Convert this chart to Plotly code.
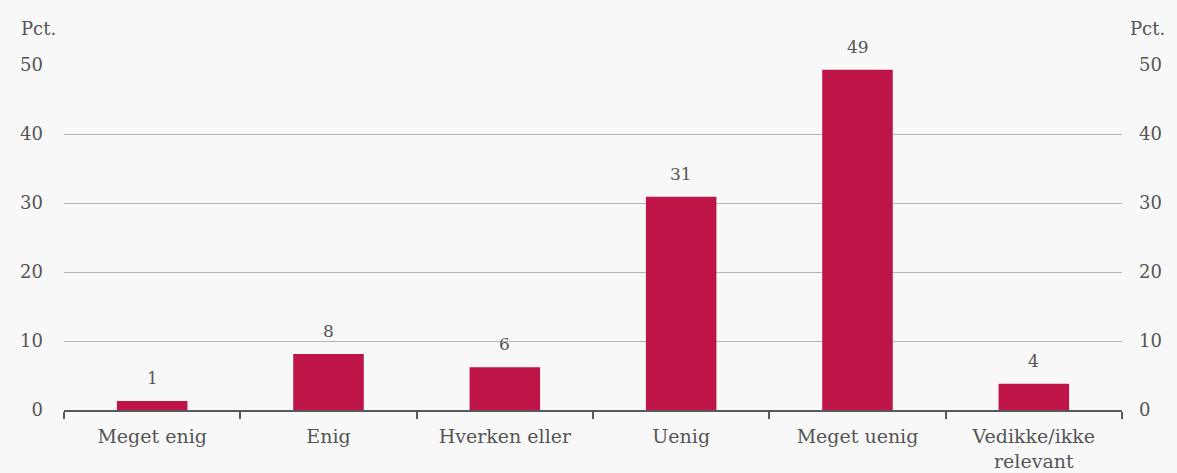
import plotly.graph_objects as go

categories = ["Meget enig", "Enig", "Hverken eller", "Uenig", "Meget uenig", "Vedikke/ikke<br>relevant"]
values = [1.3, 8.1, 6.2, 30.9, 49.3, 3.8]
labels = ["1", "8", "6", "31", "49", "4"]
y_ticks = [0, 10, 20, 30, 40, 50]

FONT = "DejaVu Serif"
TXT = "#555555"
BG = "#F8F8F8"

fig = go.Figure()
fig.add_trace(go.Bar(
    x=categories, y=values,
    marker=dict(color="#BF1448", line=dict(width=0)),
    cliponaxis=False, hoverinfo="skip",
))
fig.add_trace(go.Scatter(x=categories, y=values, yaxis="y2", mode="markers",
                         marker=dict(opacity=0), hoverinfo="skip", showlegend=False))

annotations = [
    dict(text=t, x=c, y=v, xref="x", yref="y", yanchor="bottom", yshift=11,
         showarrow=False, font=dict(family=FONT, size=17, color=TXT))
    for c, v, t in zip(categories, values, labels)
]
annotations += [
    dict(text="Pct.", x=0, y=1.0, xref="paper", yref="paper", xanchor="right", yanchor="bottom",
         xshift=-6, yshift=24, showarrow=False, font=dict(family=FONT, size=18, color=TXT)),
    dict(text="Pct.", x=1, y=1.0, xref="paper", yref="paper", xanchor="left", yanchor="bottom",
         xshift=6, yshift=24, showarrow=False, font=dict(family=FONT, size=18, color=TXT)),
]

axis_y = dict(range=[0, 50], tickvals=y_ticks, showgrid=True, gridcolor="#B4B4B4", gridwidth=1,
              zeroline=False, showline=False, ticks="", automargin=False,
              tickfont=dict(family=FONT, size=18, color=TXT), ticklabelstandoff=20)
fig.update_layout(
    width=1177, height=473,
    paper_bgcolor=BG, plot_bgcolor=BG,
    margin=dict(l=64, r=55, t=65, b=63, autoexpand=False),
    showlegend=False, bargap=0.6,
    xaxis=dict(showline=True, linecolor="#595959", linewidth=2, ticks="outside", tickson="boundaries",
               ticklen=7, tickcolor="#595959", tickwidth=2, automargin=False,
               tickfont=dict(family=FONT, size=19, color=TXT), showgrid=False,
               ticklabelstandoff=8),
    yaxis=axis_y,
    yaxis2=dict(axis_y, overlaying="y", side="right", showgrid=False, ticklabelstandoff=16),
    annotations=annotations,
)
fig.write_html("out.html", config={"displayModeBar": False},
               post_script="document.body.style.margin='0';document.body.style.background='#F8F8F8';document.body.style.overflow='hidden';")
